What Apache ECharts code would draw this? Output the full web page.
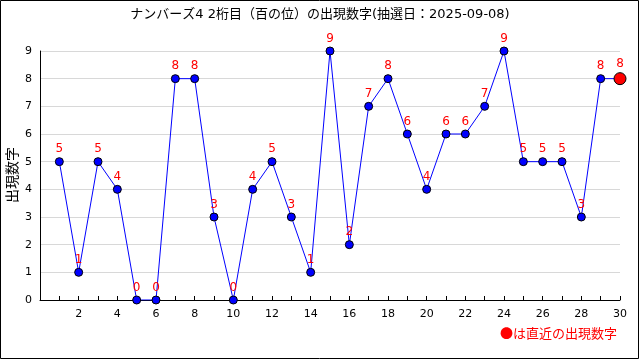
<!DOCTYPE html>
<html><head><meta charset="utf-8">
<script src="https://cdn.jsdelivr.net/npm/echarts@6/dist/echarts.min.js"></script>
<style>html,body{margin:0;padding:0;background:#fff}#c{width:640px;height:360px}</style>
</head><body><div id="c"></div>
<script>
var title = 'ナンバーズ4 2桁目（百の位）の出現数字(抽選日：2025-09-08)';
var yName = '出現数字';
var draws = [1,2,3,4,5,6,7,8,9,10,11,12,13,14,15,16,17,18,19,20,21,22,23,24,25,26,27,28,29,30];
var digits = [5,1,5,4,0,0,8,8,3,0,4,5,3,1,9,2,7,8,6,4,6,6,7,9,5,5,5,3,8,8];
var yTicks = [0,1,2,3,4,5,6,7,8,9];
var note = '●は直近の出現数字';

var font = '"DejaVu Sans","Noto Sans CJK JP",sans-serif';
var cjk = '"Noto Sans CJK JP",sans-serif';
var data = draws.map(function(x,i){
  var last = i === draws.length-1;
  return {value:[x,digits[i]], symbolSize: last?12:8,
    itemStyle:{color: last?'#ff0000':'#0000ff', borderColor:'#000', borderWidth:1}};
});
var chart = echarts.init(document.getElementById('c'));
chart.setOption({
  animation:false,
  backgroundColor:'#fff',
  title:{text:title,left:'center',top:3,textStyle:{fontSize:13,fontWeight:'normal',color:'#000',fontFamily:font}},
  grid:{left:40,right:20,top:51,bottom:60,containLabel:false,outerBoundsMode:'none'},
  xAxis:{type:'value',min:0,max:30,interval:1,
    axisLine:{lineStyle:{color:'#000'}},
    axisTick:{inside:true,length:4,lineStyle:{color:'#000'}},
    axisLabel:{color:'#000',fontSize:11,fontFamily:font,margin:9,
      formatter:function(v){return (v>0 && v%2===0)?String(v):'';}},
    splitLine:{show:false}},
  yAxis:{type:'value',min:0,max:9,interval:1,
    axisLine:{show:true,lineStyle:{color:'#000'}},
    axisTick:{show:false},
    axisLabel:{color:'#000',fontSize:11,fontFamily:font,margin:8,
      formatter:function(v){return yTicks.indexOf(v)>=0?String(v):'';}},
    splitLine:{show:true,lineStyle:{color:'#d8d8d8'}}},
  series:[{type:'line',data:data,symbol:'circle',
    lineStyle:{color:'#0000ff',width:1},
    label:{show:true,position:'top',distance:2,color:'#ff0000',fontSize:12,fontFamily:font,
      formatter:function(p){return String(p.value[1]);}}}],
  graphic:[
    {type:'rect',shape:{x:0.5,y:0.5,width:638,height:358},style:{fill:'none',stroke:'#000',lineWidth:1}},
    {type:'text',x:12,y:175,rotation:Math.PI/2,
      style:{text:yName,fill:'#000',font:'14px '+cjk,align:'center',verticalAlign:'middle'}},
    {type:'text',x:500,y:327,style:{text:note,fill:'#ff0000',font:'13px '+cjk}}
  ]
});
</script></body></html>
